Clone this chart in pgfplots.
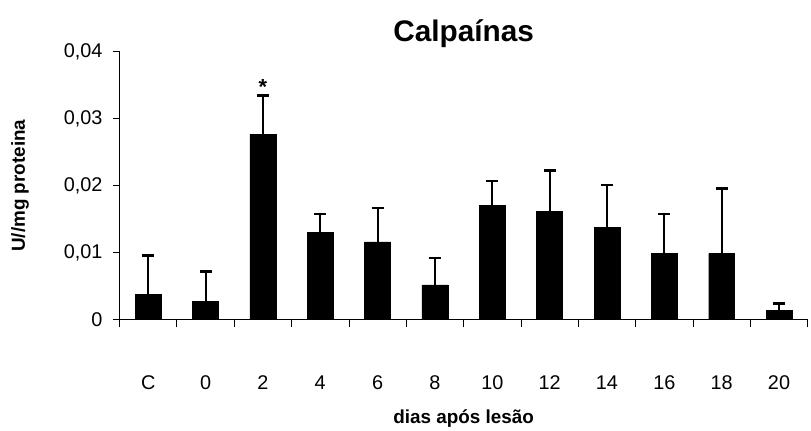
\documentclass[border=0pt]{standalone}
\usepackage{pgfplots}
\pgfplotsset{compat=1.18}
\usepackage{fontspec}
\setmainfont{Liberation Sans}
\begin{document}
\begin{tikzpicture}
\begin{axis}[
  scale only axis,
  width=691bp, height=269bp,
  xmin=-0.5, xmax=11.5,
  ymin=0, ymax=0.04,
  scaled y ticks=false,
  axis x line*=bottom, axis y line*=left,
  axis line style={-, line width=0.8bp},
  tick align=outside,
  major tick length=7bp,
  tick style={black, line width=0.8bp},
  xtick={-0.5,0.5,...,11.5},
  xticklabels={},
  extra x ticks={0,1,2,3,4,5,6,7,8,9,10,11},
  extra x tick labels={C,0,2,4,6,8,10,12,14,16,18,20},
  extra x tick style={major tick length=0pt},
  xticklabel style={anchor=center, yshift=-63bp, font=\fontsize{20}{23}\selectfont},
  ytick={0,0.01,0.02,0.03,0.04},
  yticklabels={0,{0,01},{0,02},{0,03},{0,04}},
  yticklabel style={anchor=east, inner sep=0pt, xshift=-10bp, font=\fontsize{20}{23}\selectfont},
  title={Calpaínas},
  title style={at={(axis description cs:0.5,1.045)}, anchor=center, font=\bfseries\fontsize{30}{33}\selectfont},
  xlabel={dias após lesão},
  xlabel style={at={(axis description cs:0.5,-0.37)}, anchor=center, font=\bfseries\fontsize{19}{22}\selectfont},
  ylabel={U//mg proteina},
  ylabel style={at={(axis description cs:-0.1447,0.5)}, anchor=center, rotate=0, font=\bfseries\fontsize{19}{22}\selectfont},
  ybar, bar width=26bp,
  clip=false,
]
\addplot[fill=black, draw=black,
  error bars/.cd, y dir=plus, y explicit,
  error bar style={line width=2bp, black},
  error mark options={rotate=90, mark size=6bp, line width=2.4bp, black}]
 coordinates {
 (0,0.0038) +- (0,0.0058)
 (1,0.0027) +- (0,0.0045)
 (2,0.02765) +- (0,0.00585)
 (3,0.0130) +- (0,0.0028)
 (4,0.0116) +- (0,0.0051)
 (5,0.0052) +- (0,0.0040)
 (6,0.0171) +- (0,0.0036)
 (7,0.0162) +- (0,0.0061)
 (8,0.0138) +- (0,0.0063)
 (9,0.0099) +- (0,0.0059)
 (10,0.0099) +- (0,0.0097)
 (11,0.0014) +- (0,0.0010)
 };
\node[font=\bfseries\fontsize{22}{24}\selectfont, anchor=center] at (axis cs:2,0.0348) {*};
\path (axis description cs:-0.1737,-0.2974) rectangle (axis description cs:1,1.1933);
\end{axis}
\end{tikzpicture}
\end{document}
